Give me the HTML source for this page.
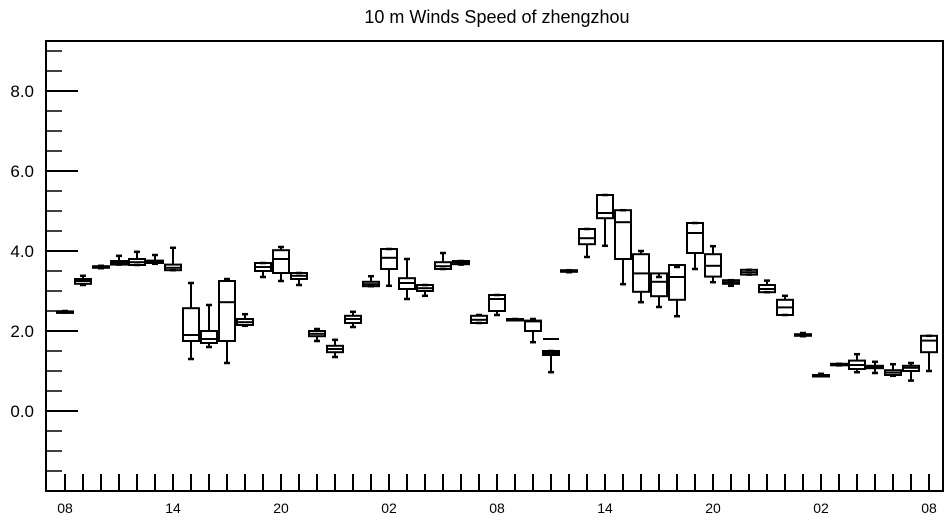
<!DOCTYPE html>
<html><head><meta charset="utf-8"><style>
html,body{margin:0;padding:0;background:#fff;}
svg{display:block;font-family:"Liberation Sans",Arial,sans-serif;}
</style></head><body>
<svg id="chart" width="952" height="520" viewBox="0 0 952 520" xmlns="http://www.w3.org/2000/svg">
<text x="497" y="23" font-size="18" text-anchor="middle">10 m Winds Speed of zhengzhou</text>
<g id="marks"></g>
<g id="axes"></g>
</svg>
<script>
// [min, q1, median, q3, max] per hour
const mins = [2.46,3.15,3.57,3.66,3.65,3.68,3.52,1.3,1.6,1.2,2.13,3.35,3.25,3.15,1.75,1.35,2.1,3.12,3.13,2.8,2.88,3.55,3.66,2.2,2.4,2.27,1.72,0.97,3.47,3.85,4.13,3.17,2.72,2.6,2.37,3.55,3.22,3.13,3.41,2.97,2.4,1.87,0.87,1.14,0.97,0.95,0.88,0.76,1.0];
const q1s  = [2.47,3.18,3.58,3.66,3.65,3.7,3.52,1.75,1.7,1.75,2.15,3.5,3.45,3.3,1.87,1.47,2.2,3.12,3.55,3.05,3.0,3.55,3.67,2.2,2.5,2.28,2.0,1.4,3.48,4.17,4.82,3.8,2.98,2.87,2.78,3.95,3.36,3.18,3.41,2.97,2.4,1.88,0.88,1.15,1.05,1.07,0.9,1.0,1.47];
const meds = [2.48,3.25,3.6,3.7,3.72,3.73,3.58,1.9,1.8,2.72,2.22,3.6,3.8,3.38,1.93,1.55,2.3,3.17,3.83,3.2,3.07,3.62,3.7,2.28,2.8,2.29,2.24,1.45,3.5,4.32,4.95,4.72,3.44,3.23,3.35,4.45,3.63,3.22,3.47,3.05,2.59,1.9,0.89,1.16,1.15,1.1,0.96,1.08,1.76];
const q3s  = [2.49,3.3,3.62,3.75,3.8,3.76,3.66,2.57,2.0,3.25,2.3,3.7,4.02,3.45,2.0,1.63,2.38,3.23,4.05,3.32,3.15,3.72,3.75,2.38,2.9,2.3,2.26,1.5,3.52,4.55,5.4,5.02,3.92,3.44,3.65,4.7,3.92,3.27,3.53,3.15,2.78,1.92,0.9,1.18,1.26,1.13,1.02,1.13,1.88];
const maxs = [2.5,3.38,3.63,3.88,3.98,3.9,4.08,3.2,2.65,3.3,2.42,3.7,4.1,3.45,2.05,1.78,2.48,3.37,4.05,3.8,3.15,3.95,3.75,2.4,2.9,2.3,2.3,1.5,3.52,4.55,5.4,5.02,4.0,3.35,3.6,4.7,4.12,3.27,3.53,3.26,2.88,1.95,0.93,1.18,1.42,1.23,1.17,1.2,1.88];
const outliers = [[27,1.8]];
const yTicks = [0,2,4,6,8];
const yTickLabels = ["0.0","2.0","4.0","6.0","8.0"];
const xTickIdx = [0,6,12,18,24,30,36,42,48];
const xTickLabels = ["08","14","20","02","08","14","20","02","08"];

const NS="http://www.w3.org/2000/svg";
const L=46,R=943,T=41,B=491, yMin=-2, yMax=9.25;
const x=i=>65+18*i;
const y=v=>B-(v-yMin)/(yMax-yMin)*(B-T);
const marks=document.getElementById('marks'), axes=document.getElementById('axes');
function mk(tag,attrs,parent){const e=document.createElementNS(NS,tag);for(const k in attrs)e.setAttribute(k,attrs[k]);parent.appendChild(e);return e;}
function line(x1,y1,x2,y2,p,w){return mk('line',{x1,y1,x2,y2,stroke:'#000','stroke-width':w||2},p);}

mins.forEach((mn,i)=>{
  const g=mk('g',{},marks);
  
  
  const cx=x(i),hw=8;
  line(cx,y(maxs[i]),cx,y(q3s[i]),g);
  line(cx,y(q1s[i]),cx,y(mn),g);
  line(cx-3,y(maxs[i]),cx+3,y(maxs[i]),g,2.5);
  line(cx-3,y(mn),cx+3,y(mn),g,2.5);
  const h=Math.max(y(q1s[i])-y(q3s[i]),1.5);
  mk('rect',{x:cx-hw,y:y(q3s[i]),width:2*hw,height:h,fill:'none',stroke:'#000','stroke-width':2},g);
  line(cx-hw,y(meds[i]),cx+hw,y(meds[i]),g);
});
outliers.forEach(o=>{
  const l=line(x(o[0])-8,y(o[1]),x(o[0])+8,y(o[1]),marks);
  
  
});

const frame=mk('rect',{x:L,y:T,width:R-L,height:B-T,fill:'none',stroke:'#000','stroke-width':2},axes);


for(let v=-1.5;v<=9.01;v+=0.5){
  const major=Math.abs(v-Math.round(v/2)*2)<1e-6;
  line(L,y(v),L+(major?32:16),y(v),axes,major?2:1.5);
}
yTicks.forEach((v,k)=>{
  const t=mk('text',{x:34,y:y(v)+6,'font-size':17,'text-anchor':'end'},axes);
  t.textContent=yTickLabels[k];
  
  
});
for(let i=0;i<=48;i++) line(x(i),B,x(i),B-17,axes);
xTickIdx.forEach((i,k)=>{
  const t=mk('text',{x:x(i),y:513,'font-size':14,'text-anchor':'middle'},axes);
  t.textContent=xTickLabels[k];
  
  
});
</script>
</body></html>
